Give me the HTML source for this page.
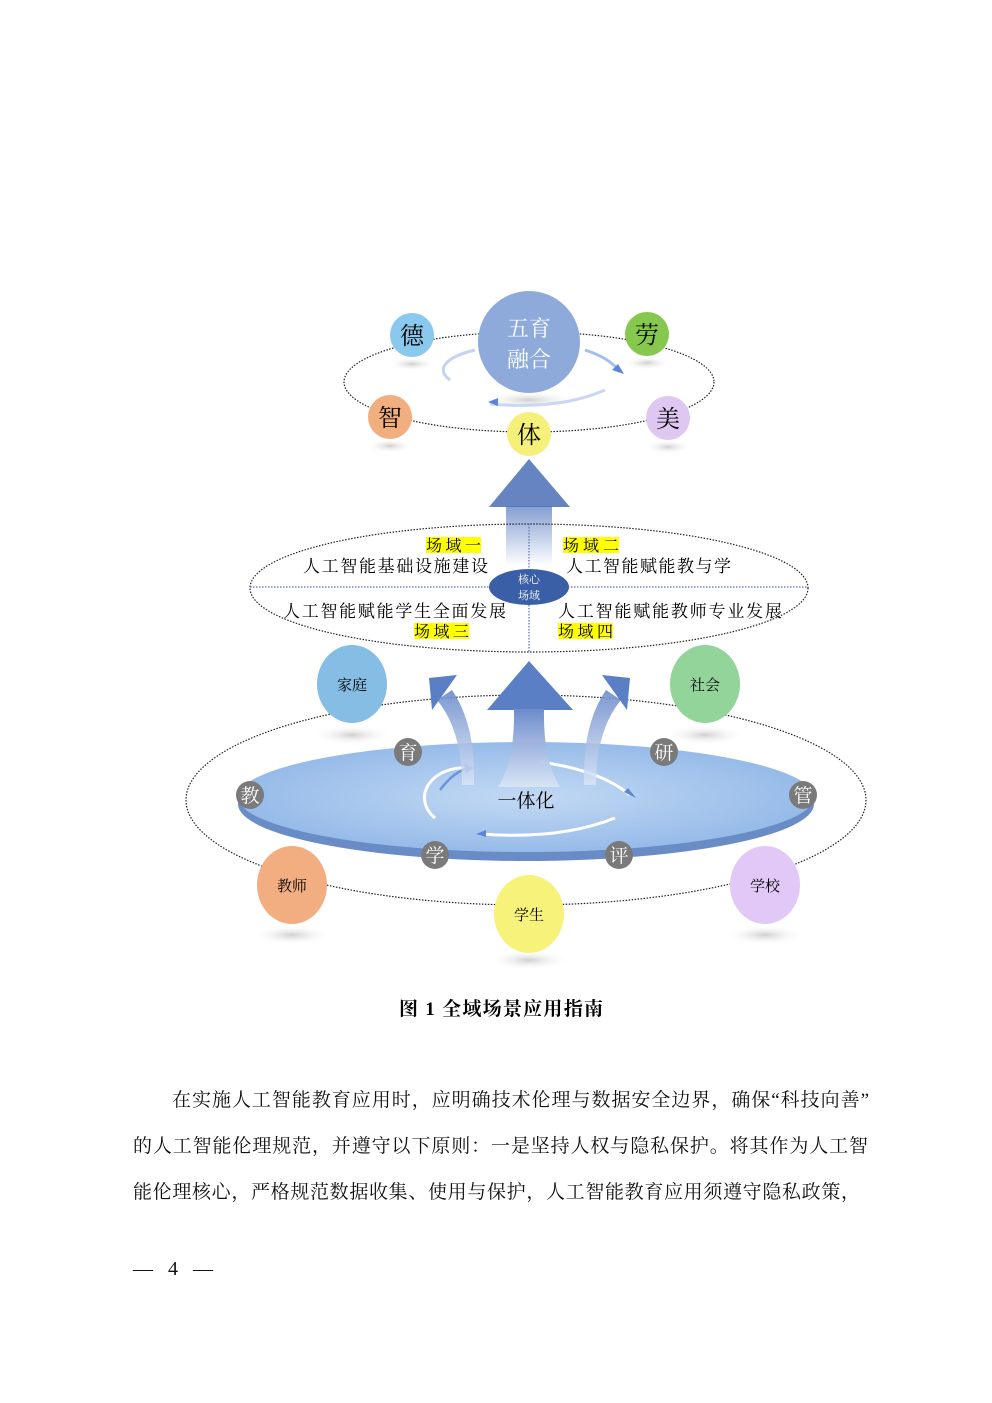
<!DOCTYPE html>
<html><head><meta charset="utf-8"><style>
html,body{margin:0;padding:0;background:#fff;}
svg{display:block;}
.s{font-family:"Liberation Serif","Noto Serif CJK SC",serif;}
</style></head><body>
<svg width="992" height="1403" viewBox="0 0 992 1403" xmlns="http://www.w3.org/2000/svg">
<defs>
<linearGradient id="up" x1="0" y1="0" x2="0" y2="1"><stop offset="0" stop-color="#4f74bd"/><stop offset="1" stop-color="#4f74bd" stop-opacity="0"/></linearGradient>
<linearGradient id="up2" x1="0" y1="0" x2="0" y2="1"><stop offset="0" stop-color="#6c8bcb"/><stop offset="1" stop-color="#dbe6f6" stop-opacity="0.9"/></linearGradient>
<radialGradient id="disk" cx="0.5" cy="0.5" r="0.6"><stop offset="0" stop-color="#c3d9f4"/><stop offset="1" stop-color="#8db5e6"/></radialGradient>
<radialGradient id="sh" cx="0.5" cy="0.5" r="0.5"><stop offset="0" stop-color="#bbb" stop-opacity="0.7"/><stop offset="1" stop-color="#fff" stop-opacity="0"/></radialGradient>
</defs>

<ellipse cx="529" cy="382" rx="185" ry="50" fill="none" stroke="#222" stroke-width="1.2" stroke-dasharray="1.5 1.5"/>
<g fill="url(#sh)">
<ellipse cx="412" cy="364" rx="24" ry="7"/><ellipse cx="647" cy="363" rx="24" ry="7"/>
<ellipse cx="390" cy="446" rx="24" ry="7"/><ellipse cx="668" cy="447" rx="24" ry="7"/>
<ellipse cx="529" cy="400" rx="50" ry="9"/>
</g>
<path d="M450 380 A80 25 0 0 1 475 350" fill="none" stroke="#c3d4f0" stroke-width="3"/>
<path d="M490 404 Q560 410 605 390" fill="none" stroke="#c8d7f2" stroke-width="3"/>
<path d="M585 350 Q610 358 620 372" fill="none" stroke="#a3bfec" stroke-width="3"/>
<polygon points="612,370 624,374 618,364" fill="#5b86d6"/>
<polygon points="488,402 498,398 498,406" fill="#5b86d6"/>
<circle cx="529" cy="342" r="51" fill="#8eaadb"/>
<text x="529" y="336" text-anchor="middle" font-size="22" fill="#fff" class="s">五育</text>
<text x="529" y="367" text-anchor="middle" font-size="22" fill="#fff" class="s">融合</text>
<circle cx="412" cy="335" r="22" fill="#8ac8ee"/><text x="412" y="344" text-anchor="middle" font-size="24" class="s">德</text>
<circle cx="647" cy="334" r="22" fill="#86c84d"/><text x="647" y="343" text-anchor="middle" font-size="24" class="s">劳</text>
<circle cx="390" cy="417" r="22" fill="#f1ae7f"/><text x="390" y="426" text-anchor="middle" font-size="24" class="s">智</text>
<circle cx="668" cy="418" r="22" fill="#dec8f2"/><text x="668" y="427" text-anchor="middle" font-size="24" class="s">美</text>
<circle cx="529" cy="434" r="22" fill="#f5f07a"/><text x="529" y="443" text-anchor="middle" font-size="24" class="s">体</text>

<polygon points="529,459 570,507 489,507" fill="#6784c2"/>
<rect x="506" y="506" width="46" height="60" fill="url(#up)" opacity="0.7"/>

<ellipse cx="529" cy="588" rx="279" ry="64" fill="none" stroke="#222" stroke-width="1.2" stroke-dasharray="1.5 1.5"/>
<line x1="250" y1="587" x2="808" y2="587" stroke="#5b6fb8" stroke-width="1.2" stroke-dasharray="1.5 1.5"/>
<line x1="529" y1="524" x2="529" y2="652" stroke="#5b6fb8" stroke-width="1.2" stroke-dasharray="1.5 1.5"/>
<g fill="#ffff00"><rect x="426" y="537" width="55" height="16"/><rect x="563" y="537" width="56" height="16"/><rect x="414" y="623" width="55" height="16"/><rect x="558" y="623" width="55" height="16"/></g>
<g class="s" font-size="16">
<text x="426" y="551" textLength="55">场域一</text>
<text x="563" y="551" textLength="56">场域二</text>
<text x="414" y="637" textLength="55">场域三</text>
<text x="558" y="637" textLength="55">场域四</text>
</g>
<g class="s" font-size="17">
<text x="303" y="572" textLength="185">人工智能基础设施建设</text>
<text x="566" y="572" textLength="165">人工智能赋能教与学</text>
<text x="283" y="617" textLength="223">人工智能赋能学生全面发展</text>
<text x="558" y="617" textLength="224">人工智能赋能教师专业发展</text>
</g>
<ellipse cx="529" cy="587" rx="40" ry="18" fill="#3a5fa6"/>
<text x="529" y="583" text-anchor="middle" font-size="11" fill="#fff" class="s">核心</text>
<text x="529" y="599" text-anchor="middle" font-size="11" fill="#fff" class="s">场域</text>

<ellipse cx="526" cy="800" rx="340" ry="105" fill="none" stroke="#222" stroke-width="1.2" stroke-dasharray="1.5 1.5"/>
<ellipse cx="526" cy="804" rx="288" ry="57" fill="#6a8cc6"/>
<ellipse cx="526" cy="797" rx="288" ry="55" fill="url(#disk)"/>
<g fill="url(#sh)">
<ellipse cx="352" cy="735" rx="40" ry="10"/><ellipse cx="705" cy="735" rx="40" ry="10"/>
<ellipse cx="292" cy="935" rx="40" ry="10"/><ellipse cx="529" cy="960" rx="40" ry="10"/><ellipse cx="765" cy="935" rx="40" ry="10"/>
</g>
<path d="M435 818 A40 30 0 0 1 470 768" fill="none" stroke="#fff" stroke-width="3"/>
<path d="M440 790 Q455 770 470 768" fill="none" stroke="#6a95dc" stroke-width="2.5"/>
<polygon points="464,764 474,768 466,774" fill="#5b86d6"/>
<path d="M540 762 Q600 770 630 795" fill="none" stroke="#fff" stroke-width="3"/>
<polygon points="624,792 636,798 628,788" fill="#5b86d6"/>
<path d="M480 834 Q560 840 615 818" fill="none" stroke="#fff" stroke-width="3"/>
<polygon points="476,834 486,830 486,837" fill="#5b86d6"/>
<!-- central arrow -->
<polygon points="529,661 573,710 487,710" fill="#5b7fc4"/>
<path d="M514 709 L544 709 Q543 760 560 787 L498 787 Q515 760 514 709 Z" fill="url(#up2)"/>
<!-- left curved arrow -->
<path d="M437 700 Q462 730 462 785 L474 785 Q476 725 452 690 Z" fill="url(#up2)" opacity="0.9"/>
<polygon points="429,678 457,675 432,710" fill="#5b7fc4"/>
<!-- right curved arrow -->
<path d="M621 700 Q596 730 596 785 L584 785 Q582 725 606 690 Z" fill="url(#up2)" opacity="0.9"/>
<polygon points="630,678 602,675 627,710" fill="#5b7fc4"/>
<text x="526" y="807" text-anchor="middle" font-size="19" class="s">一体化</text>
<g fill="#7a7a7a">
<circle cx="408" cy="752" r="14"/><circle cx="664" cy="752" r="14"/><circle cx="250" cy="795" r="14"/>
<circle cx="803" cy="795" r="14"/><circle cx="435" cy="855" r="14"/><circle cx="619" cy="855" r="14"/>
</g>
<g fill="#fff" font-size="19" text-anchor="middle" class="s">
<text x="408" y="759">育</text><text x="664" y="759">研</text><text x="250" y="802">教</text>
<text x="803" y="802">管</text><text x="435" y="862">学</text><text x="619" y="862">评</text>
</g>
<ellipse cx="352" cy="684" rx="35" ry="39" fill="#85bde4"/>
<ellipse cx="705" cy="684" rx="35" ry="39" fill="#93d49b"/>
<ellipse cx="292" cy="885" rx="35" ry="39" fill="#f2ae80"/>
<ellipse cx="529" cy="914" rx="35" ry="39" fill="#f6f27a"/>
<ellipse cx="765" cy="885" rx="35" ry="39" fill="#e2c8f6"/>
<g font-size="15" text-anchor="middle" class="s">
<text x="352" y="690">家庭</text><text x="705" y="690">社会</text><text x="292" y="891">教师</text>
<text x="529" y="920">学生</text><text x="765" y="891">学校</text>
</g>

<text x="399" y="1015" textLength="204" font-size="19" font-weight="bold" class="s">图 1  全域场景应用指南</text>

<g class="s" font-size="19" fill="#111">
<text x="172" y="1106" textLength="697">在实施人工智能教育应用时，应明确技术伦理与数据安全边界，确保“科技向善”</text>
<text x="133" y="1152" textLength="735">的人工智能伦理规范，并遵守以下原则：一是坚持人权与隐私保护。将其作为人工智</text>
<text x="133" y="1198" textLength="727">能伦理核心，严格规范数据收集、使用与保护，人工智能教育应用须遵守隐私政策，</text>
<text x="133" y="1275" font-size="20" textLength="80">— 4 —</text>
</g>
</svg>
</body></html>
